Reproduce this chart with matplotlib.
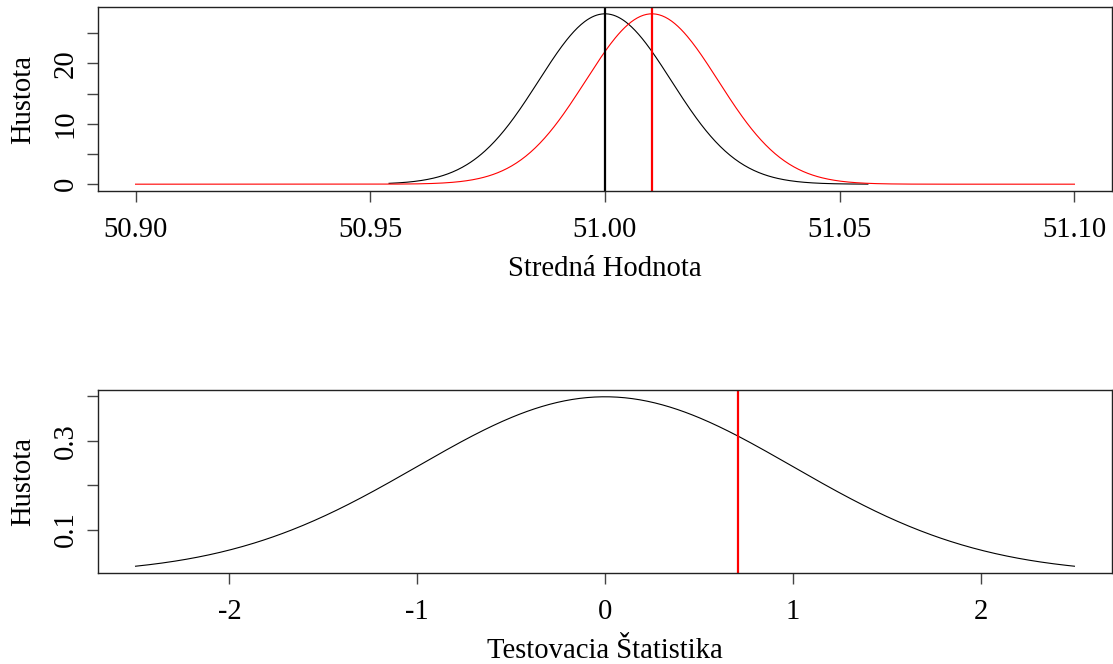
import numpy as np
import matplotlib
matplotlib.use("Agg")
import matplotlib.pyplot as plt
from matplotlib.ticker import FixedLocator

# parameters
mu_h0 = 51.00          # black curve / black vertical line
mu_sample = 51.01      # red curve / red vertical line
std_err = 0.01414      # spread of both mean curves (peak ~28.2)
mean_range = (50.90, 51.10)
black_range = (50.954, 51.056)
mean_ticks = [50.90, 50.95, 51.00, 51.05, 51.10]
mean_tick_labels = ["50.90", "50.95", "51.00", "51.05", "51.10"]
dens_ticks = [0, 5, 10, 15, 20, 25]
dens_tick_labels = ["0", "", "10", "", "20", ""]

z_range = (-2.5, 2.5)
z_obs = 0.707
z_ticks = [-2, -1, 0, 1, 2]
z_tick_labels = ["-2", "-1", "0", "1", "2"]
zdens_ticks = [0.1, 0.2, 0.3, 0.4]
zdens_tick_labels = ["0.1", "", "0.3", ""]


def dnorm(x, m, s):
  return np.exp(-0.5 * ((x - m) / s) ** 2) / (s * np.sqrt(2 * np.pi))


plt.rcParams['font.family'] = ['Liberation Serif', 'DejaVu Serif']
plt.rcParams['font.size'] = 20.6

fig = plt.figure(figsize=(11.13, 6.64), dpi=100)
ax1 = fig.add_axes([98 / 1113, 1 - 191 / 664, 1014 / 1113, 184 / 664])
ax2 = fig.add_axes([98 / 1113, 1 - 573 / 664, 1014 / 1113, 183 / 664])


def r_style(ax):
  for s in ax.spines.values():
    s.set_linewidth(1.0)
    s.set_color('#222222')
  ax.tick_params(length=8, width=1.0, color='#444444', pad=6)
  ax.tick_params(axis='x', pad=11)


# top panel: distribution of the mean
x_black = np.linspace(black_range[0], black_range[1], 400)
x_red = np.linspace(mean_range[0], mean_range[1], 600)
ax1.plot(x_black, dnorm(x_black, mu_h0, std_err), color='black', lw=0.8)
ax1.plot(x_red, dnorm(x_red, mu_sample, std_err), color='#ff0000', lw=0.8)
ax1.axvline(mu_h0, color='black', lw=1.6)
ax1.axvline(mu_sample, color='#ff0000', lw=1.6)
peak = dnorm(mu_h0, mu_h0, std_err)
pad_x = 0.04 * (mean_range[1] - mean_range[0])
ax1.set_xlim(mean_range[0] - pad_x, mean_range[1] + pad_x)
ax1.set_ylim(-0.04 * peak, peak * 1.04)
ax1.xaxis.set_major_locator(FixedLocator(mean_ticks))
ax1.set_xticklabels(mean_tick_labels)
ax1.yaxis.set_major_locator(FixedLocator(dens_ticks))
ax1.set_yticklabels(dens_tick_labels, rotation=90, va='center')
ax1.set_xlabel("Stredná Hodnota", labelpad=9)
ax1.set_ylabel("Hustota", labelpad=12)
r_style(ax1)

# bottom panel: test statistic
z = np.linspace(z_range[0], z_range[1], 500)
zd = dnorm(z, 0, 1)
ax2.plot(z, zd, color='black', lw=0.8)
ax2.axvline(z_obs, color='#ff0000', lw=1.6)
pad_z = 0.04 * (z_range[1] - z_range[0])
ax2.set_xlim(z_range[0] - pad_z, z_range[1] + pad_z)
rng = zd.max() - zd.min()
ax2.set_ylim(zd.min() - 0.04 * rng, zd.max() + 0.04 * rng)
ax2.xaxis.set_major_locator(FixedLocator(z_ticks))
ax2.set_xticklabels(z_tick_labels)
ax2.yaxis.set_major_locator(FixedLocator(zdens_ticks))
ax2.set_yticklabels(zdens_tick_labels, rotation=90, va='center')
ax2.set_xlabel("Testovacia Štatistika", labelpad=9)
ax2.set_ylabel("Hustota", labelpad=12)
r_style(ax2)

fig.savefig("out.png", dpi=100)
